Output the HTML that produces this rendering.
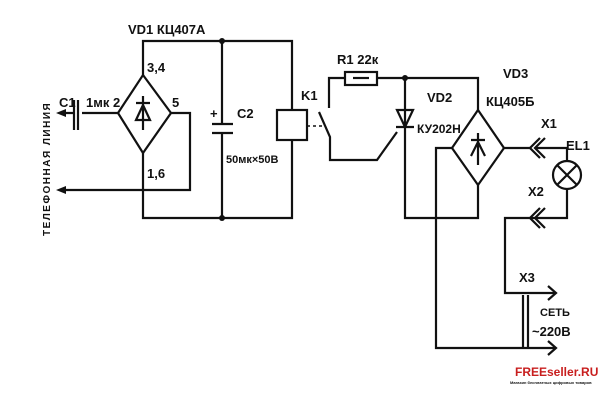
<!DOCTYPE html>
<html><head><meta charset="utf-8"><style>
html,body{margin:0;padding:0;background:#fff;}
svg text{font-family:"Liberation Sans","DejaVu Sans",sans-serif;font-weight:bold;fill:#111;}
</style></head><body>
<svg width="600" height="400" viewBox="0 0 600 400" xmlns="http://www.w3.org/2000/svg">
<rect width="600" height="400" fill="#fff"/>
<g stroke="#111" stroke-width="2.2" fill="none" stroke-linejoin="miter">
<path d="M143 75 V41 H292 V110"/>
<path d="M292 140 V218 H143 V153"/>
<path d="M143 75 L171 113 L143 153 L118 113 Z"/>
<path d="M143 96 V130 M136 103 H150 M136 120 L143 105 L150 120 Z"/>
<path d="M171 113 H190 V190 H62"/>
<path d="M118 113 H82 M78 100 V130 M74 100 V130 M74 113 H62"/>
<path d="M222 41 V124 M212 124 H233 M212 133 H233 M222 133 V218"/>
<rect x="277" y="110" width="30" height="30"/>
<path d="M329 108 V78 H345 M377 78 H478 V110"/>
<rect x="345" y="72" width="32" height="13"/>
<path d="M353 78 H369"/>
<path d="M319 112 L330 137 V160 H377 L397 132"/>
<path d="M405 78 V218 H478 V185"/>
<path d="M397 110 H413 L405 127 Z M396 127 H414"/>
<path d="M478 110 L504 148 L478 185 L452 148 Z"/>
<path d="M478 133 V165 M471 140 H485 M471 156 L478 142 L485 156"/>
<path d="M452 148 H436 V348 H555"/>
<path d="M504 148 H530"/>
<path d="M540 138 L530 148 L540 158 M545 138 L535 148 L545 158"/>
<path d="M535 148 H567 V161"/>
<circle cx="567" cy="175" r="14"/>
<path d="M557 165 L577 185 M577 165 L557 185"/>
<path d="M567 189 V218 H535"/>
<path d="M540 208 L530 218 L540 228 M545 208 L535 218 L545 228"/>
<path d="M535 218 H505 V293 H555"/>
<path d="M548 286 L556 293 L548 300 M548 341 L556 348 L548 355"/>
<path d="M523 295 V348 M528 295 V348"/>
</g>
<g stroke="#111" stroke-width="1.6" stroke-dasharray="3 3"><path d="M307 126 H322"/></g>
<g fill="#111">
<circle cx="222" cy="41" r="3"/><circle cx="222" cy="218" r="3"/><circle cx="405" cy="78" r="3"/>
<path d="M56 113 L66 109 L66 117 Z"/><path d="M56 190 L66 186 L66 194 Z"/>
</g>
<g font-size="13">
<text x="128" y="34">VD1 КЦ407А</text>
<text x="147" y="72">3,4</text>
<text x="59" y="107">C1</text>
<text x="86" y="107">1мк 2</text>
<text x="172" y="107">5</text>
<text x="147" y="178">1,6</text>
<text x="210" y="118">+</text>
<text x="237" y="118">C2</text>
<text x="226" y="163" font-size="11">50мк×50В</text>
<text x="301" y="100">K1</text>
<text x="337" y="64">R1 22к</text>
<text x="427" y="102">VD2</text>
<text x="417" y="133" font-size="12">КУ202Н</text>
<text x="503" y="78">VD3</text>
<text x="486" y="106">КЦ405Б</text>
<text x="541" y="128">X1</text>
<text x="566" y="150">EL1</text>
<text x="528" y="196">X2</text>
<text x="519" y="282">X3</text>
<text x="540" y="316" font-size="11">СЕТЬ</text>
<text x="532" y="336">~220В</text>
<text transform="translate(50,236) rotate(-90)" font-size="10" letter-spacing="1.5">ТЕЛЕФОННАЯ ЛИНИЯ</text>
<text x="515" y="376" font-size="12" style="fill:#c81e1e">FREEseller.RU</text>
<text x="510" y="384" font-size="4" font-weight="normal">Магазин бесплатных цифровых товаров</text>
</g>
</svg>
</body></html>
